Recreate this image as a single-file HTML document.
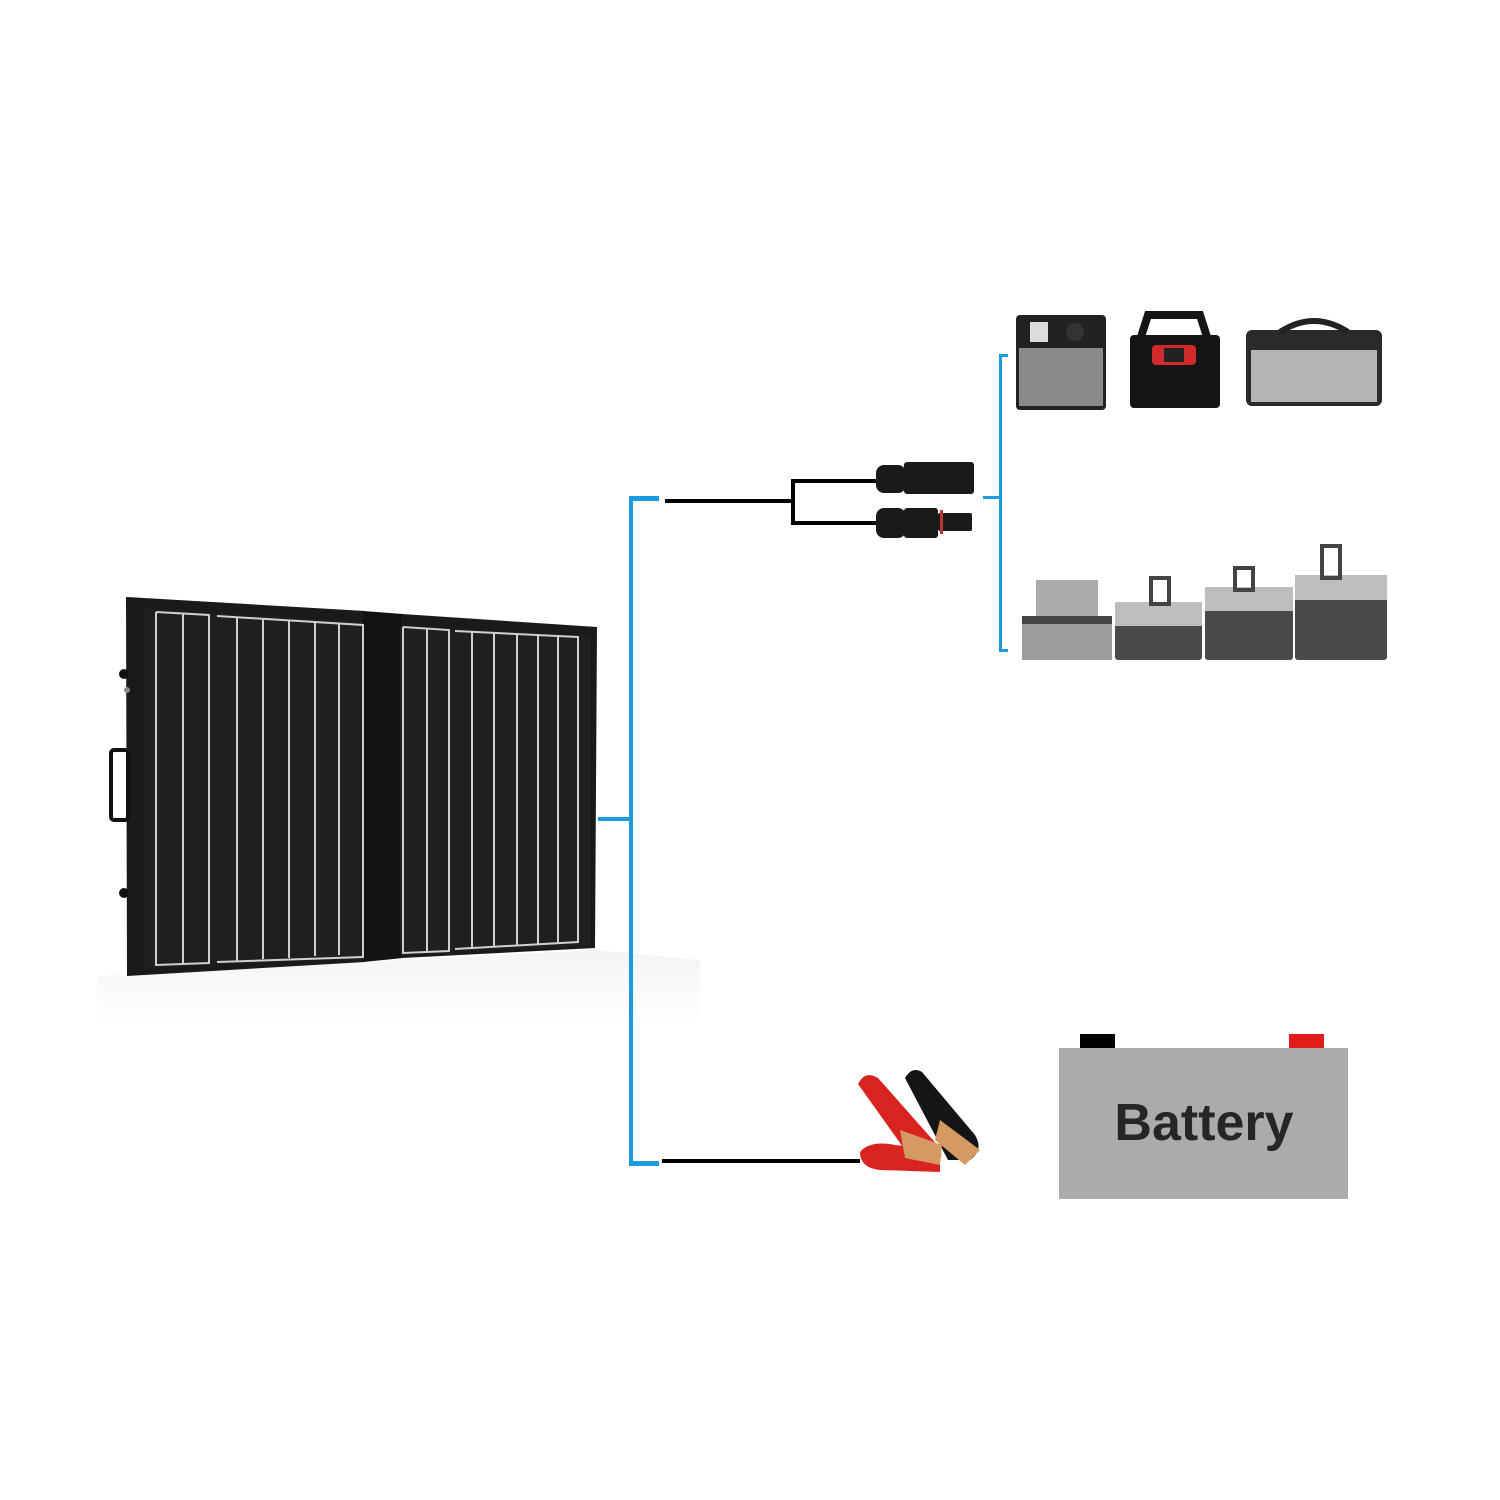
<!DOCTYPE html>
<html><head><meta charset="utf-8"><style>
html,body{margin:0;padding:0;background:#fff;}
svg{display:block}
</style></head><body>
<svg width="1500" height="1500" viewBox="0 0 1500 1500" xmlns="http://www.w3.org/2000/svg">
<defs>
<linearGradient id="refl" x1="0" y1="0" x2="0" y2="1">
<stop offset="0" stop-color="#ececec"/><stop offset="1" stop-color="#ffffff"/>
</linearGradient>
</defs>
<polygon points="97,976 597,950 700,960 700,1022 97,1022" fill="url(#refl)" opacity="0.6"/>
<polygon points="126,597 365,611 365,962 127,976" fill="#1a1a1a"/>
<polygon points="363,611 403,614 403,958 363,962" fill="#131313"/>
<polygon points="402,614 597,627 595,948 402,958" fill="#1a1a1a"/>
<polygon points="145,609 362,622 362,958 145,968" fill="#1f1f1f"/>
<polygon points="400,626 590,636 590,946 400,953" fill="#1f1f1f"/>
<g stroke="#cfcfcf" stroke-width="2" fill="none">
<polyline points="156,612 209,615 209,963 156,965 156,612"/>
<line x1="183" y1="614" x2="183" y2="963"/>
<polyline points="217,616 363,625 363,957 217,962"/>
<line x1="237" y1="617" x2="237" y2="961"/>
<line x1="263" y1="618" x2="263" y2="959"/>
<line x1="289" y1="620" x2="289" y2="958"/>
<line x1="315" y1="621" x2="315" y2="956"/>
<line x1="339" y1="623" x2="339" y2="955"/>
<polyline points="403,627 449,630 449,951 403,953 403,627"/>
<line x1="427" y1="629" x2="427" y2="952"/>
<polyline points="455,631 578,637 578,942 455,949"/>
<line x1="472" y1="632" x2="472" y2="948"/>
<line x1="494" y1="633" x2="494" y2="947"/>
<line x1="517" y1="634" x2="517" y2="945"/>
<line x1="538" y1="635" x2="538" y2="944"/>
<line x1="558" y1="636" x2="558" y2="943"/>
</g>
<rect x="111" y="750" width="17" height="70" rx="3" fill="none" stroke="#111" stroke-width="4"/>
<circle cx="124" cy="674" r="5" fill="#111"/>
<circle cx="124" cy="893" r="5" fill="#111"/>
<circle cx="127" cy="690" r="3" fill="#888"/>

<g fill="#1a9be0">
<rect x="629" y="496" width="4" height="669"/>
<rect x="629" y="496" width="30" height="5"/>
<rect x="629" y="1161" width="30" height="5"/>
<rect x="598" y="817" width="33" height="4"/>
<rect x="999" y="354" width="3" height="298"/>
<rect x="999" y="354" width="9" height="3"/>
<rect x="999" y="649" width="9" height="3"/>
<rect x="983" y="496" width="17" height="3"/>
</g>

<g fill="#000">
<rect x="665" y="499" width="130" height="4"/>
<rect x="791" y="479" width="4" height="46"/>
<rect x="791" y="479" width="90" height="4"/>
<rect x="791" y="521" width="90" height="4"/>
<rect x="662" y="1159" width="198" height="4"/>
</g>
<g fill="#1a1a1a">
<rect x="876" y="465" width="30" height="28" rx="8"/>
<rect x="904" y="462" width="70" height="32" rx="3"/>
<rect x="876" y="508" width="30" height="30" rx="8"/>
<rect x="904" y="508" width="34" height="30" rx="3"/>
<rect x="938" y="513" width="34" height="18" rx="2"/>
</g>
<rect x="940" y="510" width="3" height="24" fill="#b33"/>

<rect x="1016" y="315" width="90" height="95" rx="4" fill="#222"/>
<rect x="1019" y="348" width="84" height="58" fill="#8a8a8a"/>
<rect x="1030" y="322" width="18" height="20" fill="#ddd"/>
<circle cx="1075" cy="332" r="9" fill="#333"/>
<rect x="1130" y="335" width="90" height="73" rx="4" fill="#151515"/>
<path d="M1140 340 L1148 315 H1200 L1208 340" fill="none" stroke="#151515" stroke-width="8"/>
<rect x="1152" y="345" width="44" height="20" rx="4" fill="#d12a2a"/>
<rect x="1164" y="348" width="20" height="14" fill="#222"/>
<rect x="1246" y="330" width="136" height="76" rx="6" fill="#2a2a2a"/>
<rect x="1251" y="350" width="126" height="52" fill="#b5b5b5"/>
<path d="M1280 332 Q1314 310 1348 332" fill="none" stroke="#222" stroke-width="6"/>

<rect x="1036" y="580" width="62" height="42" fill="#aaa"/>
<rect x="1022" y="620" width="90" height="40" fill="#9c9c9c"/>
<rect x="1022" y="616" width="90" height="8" fill="#444"/>
<rect x="1115" y="602" width="87" height="58" rx="3" fill="#4a4a4a"/>
<rect x="1115" y="602" width="87" height="24" fill="#bdbdbd"/>
<rect x="1151" y="578" width="18" height="26" fill="none" stroke="#444" stroke-width="4"/>
<rect x="1205" y="587" width="88" height="73" rx="3" fill="#4a4a4a"/>
<rect x="1205" y="587" width="88" height="24" fill="#bdbdbd"/>
<rect x="1235" y="568" width="18" height="22" fill="none" stroke="#444" stroke-width="4"/>
<rect x="1295" y="575" width="92" height="85" rx="3" fill="#4a4a4a"/>
<rect x="1295" y="575" width="92" height="25" fill="#bdbdbd"/>
<rect x="1322" y="546" width="18" height="32" fill="none" stroke="#444" stroke-width="4"/>

<path d="M905 1078 Q912 1066 922 1072 L975 1135 Q984 1150 970 1160 L948 1160 Z" fill="#151515"/>
<path d="M940 1120 L980 1150 L965 1165 L935 1140 Z" fill="#d59a62"/>
<path d="M858 1084 Q865 1070 878 1078 L940 1148 Q945 1162 930 1165 L905 1150 Z" fill="#d8231f"/>
<path d="M860 1152 Q870 1140 895 1145 L940 1150 L940 1172 L880 1170 Q860 1168 860 1152 Z" fill="#d8231f"/>
<path d="M900 1130 L942 1145 L940 1165 L905 1158 Z" fill="#d59a62"/>

<rect x="1080" y="1034" width="35" height="17" fill="#000"/>
<rect x="1289" y="1034" width="35" height="17" fill="#e21b1b"/>
<rect x="1059" y="1048" width="289" height="151" fill="#ababab"/>
<text x="1204" y="1140" text-anchor="middle" font-family="Liberation Sans, sans-serif" font-weight="bold" font-size="52" fill="#262626">Battery</text>
</svg>
</body></html>
